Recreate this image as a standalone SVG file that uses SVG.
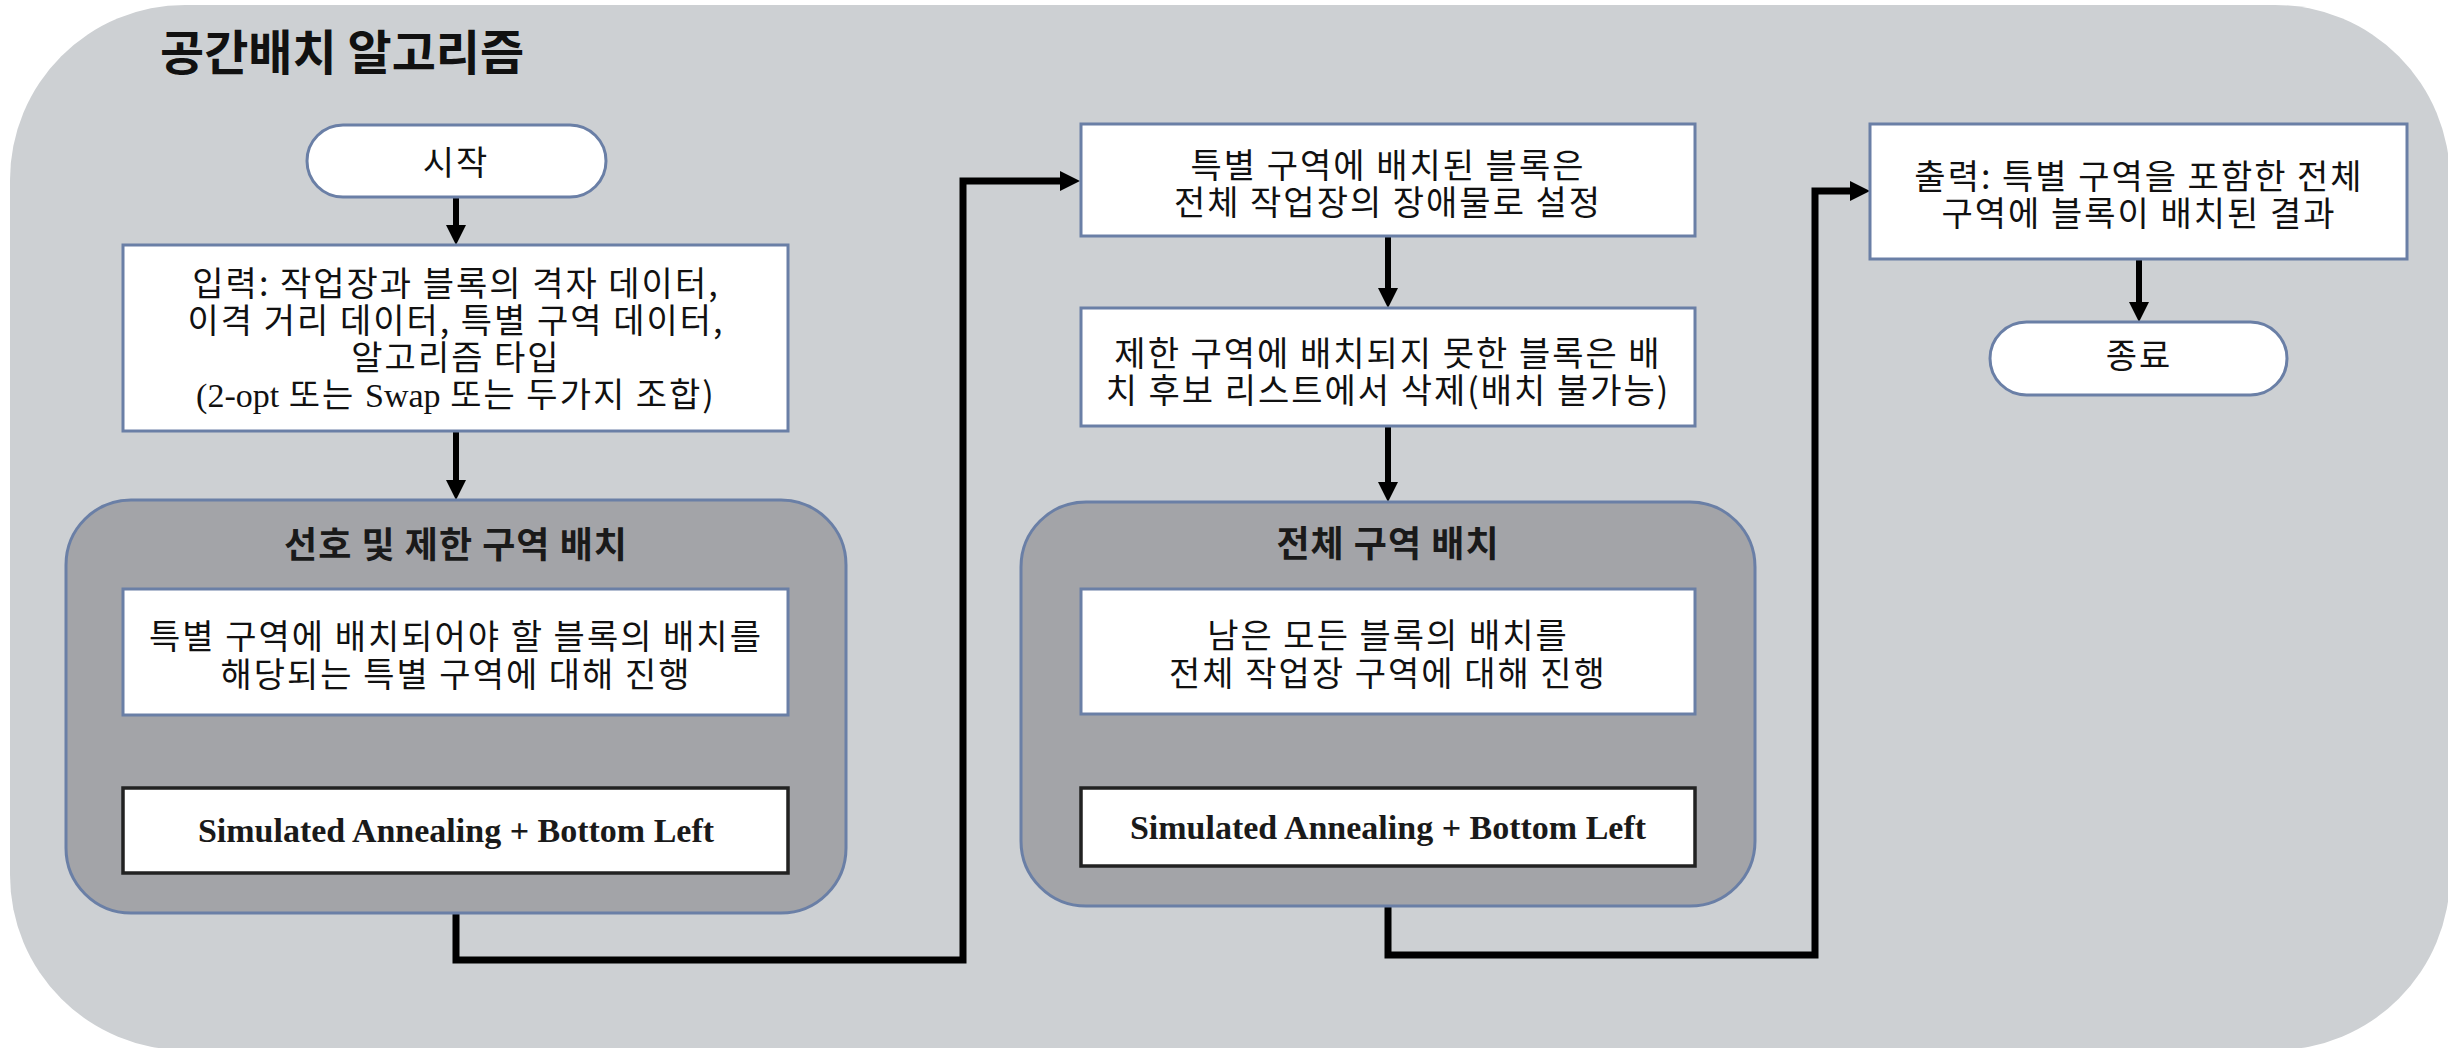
<svg xmlns="http://www.w3.org/2000/svg" width="2448" height="1048" viewBox="0 0 2448 1048">
<defs>
<style>
.bg{fill:#cdd0d3;}
.grp{fill:#a3a4a8;stroke:#6a7fa6;stroke-width:3;}
.box{fill:#ffffff;stroke:#6a7fa6;stroke-width:3;}
.sa{fill:#ffffff;stroke:#222222;stroke-width:3.5;}
.kr{font-family:"Noto Sans CJK KR","Noto Sans",sans-serif;font-size:34px;letter-spacing:2px;fill:#111111;text-anchor:middle;}
.krb{font-family:"Noto Sans CJK KR","Noto Sans",sans-serif;font-size:36px;font-weight:bold;letter-spacing:1px;fill:#1a1a1a;text-anchor:middle;}
.title{font-family:"Noto Sans CJK KR","Noto Sans",sans-serif;font-size:48px;font-weight:bold;fill:#111111;}
.tm{font-family:"Liberation Serif","Times New Roman",serif;letter-spacing:0;}
.sat{font-family:"Liberation Serif","Times New Roman",serif;font-size:34px;font-weight:bold;fill:#1a1a1a;text-anchor:middle;}
.ln{fill:none;stroke:#000000;stroke-width:6;}
.cn{fill:none;stroke:#000000;stroke-width:7;stroke-linejoin:miter;}
</style>
<marker id="ah" markerUnits="userSpaceOnUse" markerWidth="20" markerHeight="20" refX="0" refY="10" orient="auto" viewBox="0 0 20 20">
<path d="M0,0 L20,10 L0,20 Z" fill="#000000"/>
</marker>
</defs>
<rect width="2448" height="1048" fill="#ffffff"/>
<rect class="bg" x="10" y="5" width="2440" height="1045" rx="175" ry="175"/>
<text class="title" x="160" y="70">공간배치 알고리즘</text>

<g id="connectors">
<path class="ln" d="M456,197 L456,225" marker-end="url(#ah)"/>
<path class="ln" d="M456,431 L456,480" marker-end="url(#ah)"/>
<path class="ln" d="M456,715 L456,768" marker-end="url(#ah)"/>
<path class="cn" d="M456,913 L456,960 L963,960 L963,181 L1060,181" marker-end="url(#ah)"/>
<path class="ln" d="M1388,236 L1388,288" marker-end="url(#ah)"/>
<path class="ln" d="M1388,426 L1388,482" marker-end="url(#ah)"/>
<path class="ln" d="M1388,714 L1388,768" marker-end="url(#ah)"/>
<path class="cn" d="M1388,906 L1388,955 L1815,955 L1815,191 L1850,191" marker-end="url(#ah)"/>
<path class="ln" d="M2139,259 L2139,302" marker-end="url(#ah)"/>
</g>

<g id="start">
<rect class="box" x="307" y="125" width="299" height="72" rx="36" ry="36"/>
<text class="kr" x="456" y="175">시작</text>
</g>

<g id="input">
<rect class="box" x="123" y="245" width="665" height="186"/>
<text class="kr"><tspan x="456" y="296">입력: 작업장과 블록의 격자 데이터,</tspan><tspan x="456" y="333">이격 거리 데이터, 특별 구역 데이터,</tspan><tspan x="456" y="370">알고리즘 타입</tspan><tspan x="456" y="407"><tspan class="tm">(2-opt</tspan> 또는 <tspan class="tm">Swap</tspan> 또는 두가지 조합)</tspan></text>
</g>

<g id="group1">
<rect class="grp" x="66" y="500" width="780" height="413" rx="65" ry="65"/>
<text class="krb" x="456" y="558">선호 및 제한 구역 배치</text>
</g>

<g id="special-place">
<rect class="box" x="123" y="589" width="665" height="126"/>
<text class="kr"><tspan x="456" y="649">특별 구역에 배치되어야 할 블록의 배치를</tspan><tspan x="456" y="687">해당되는 특별 구역에 대해 진행</tspan></text>
</g>

<g id="sa1">
<rect class="sa" x="123" y="788" width="665" height="85"/>
<text class="sat" x="456" y="842">Simulated Annealing + Bottom Left</text>
</g>

<g id="obstacle">
<rect class="box" x="1081" y="124" width="614" height="112"/>
<text class="kr"><tspan x="1388" y="178">특별 구역에 배치된 블록은</tspan><tspan x="1388" y="215">전체 작업장의 장애물로 설정</tspan></text>
</g>

<g id="remove">
<rect class="box" x="1081" y="308" width="614" height="118"/>
<text class="kr"><tspan x="1388" y="366">제한 구역에 배치되지 못한 블록은 배</tspan><tspan x="1388" y="403">치 후보 리스트에서 삭제(배치 불가능)</tspan></text>
</g>

<g id="group2">
<rect class="grp" x="1021" y="502" width="734" height="404" rx="65" ry="65"/>
<text class="krb" x="1388" y="557">전체 구역 배치</text>
</g>

<g id="all-place">
<rect class="box" x="1081" y="589" width="614" height="125"/>
<text class="kr"><tspan x="1388" y="648">남은 모든 블록의 배치를</tspan><tspan x="1388" y="686">전체 작업장 구역에 대해 진행</tspan></text>
</g>

<g id="sa2">
<rect class="sa" x="1081" y="788" width="614" height="78"/>
<text class="sat" x="1388" y="839">Simulated Annealing + Bottom Left</text>
</g>

<g id="output">
<rect class="box" x="1870" y="124" width="537" height="135"/>
<text class="kr"><tspan x="2139" y="189">출력: 특별 구역을 포함한 전체</tspan><tspan x="2139" y="226">구역에 블록이 배치된 결과</tspan></text>
</g>

<g id="end">
<rect class="box" x="1990" y="322" width="297" height="73" rx="36.5" ry="36.5"/>
<text class="kr" x="2139" y="368">종료</text>
</g>
</svg>
